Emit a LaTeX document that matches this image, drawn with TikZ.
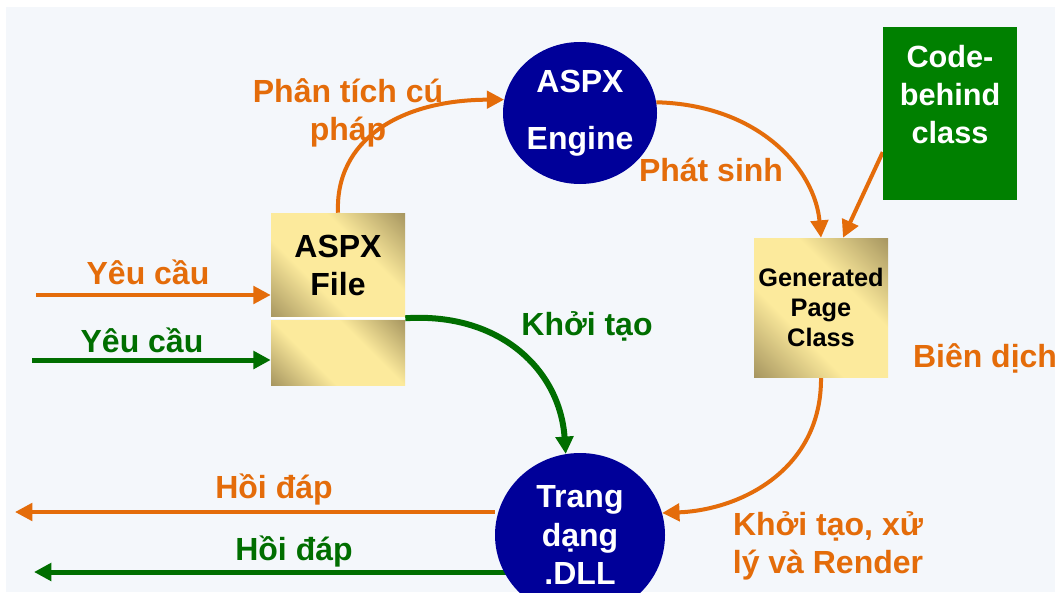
\documentclass[tikz,border=0pt]{standalone}
\usepackage{fontspec}
\setmainfont{Liberation Sans}
\usetikzlibrary{shapes.geometric,arrows.meta,calc}
\pgfdeclarelayer{back}
\pgfdeclarelayer{conn}
\pgfsetlayers{back,conn,main}
\definecolor{navy}{HTML}{000099}
\definecolor{orng}{HTML}{E46C0A}
\definecolor{grn}{HTML}{006E00}
\definecolor{boxgreen}{HTML}{008000}
\definecolor{gold}{HTML}{FCEA9C}
\definecolor{golddark}{HTML}{7F6F44}
\definecolor{panel}{HTML}{F4F7FB}
\pgfdeclareverticalshading{goldsh}{100bp}{color(0bp)=(golddark); color(14bp)=(golddark!70!gold); color(38bp)=(gold); color(62bp)=(gold); color(86bp)=(golddark!70!gold); color(100bp)=(golddark)}
\begin{document}
\begin{tikzpicture}[x=0.75pt,y=-0.75pt,
  lbl/.style={font=\fontsize{24}{28}\selectfont\bfseries, inner sep=0pt, align=center},
  olbl/.style={lbl,text=orng},
  glbl/.style={lbl,text=grn},
  circ/.style={ellipse, fill=navy, text=white, inner sep=0pt, align=center},
  goldbox/.style={rectangle, inner sep=0pt, align=center, shading=goldsh, shading angle=-45},
  oarr/.style={draw=orng, line width=3pt, -{Triangle[length=13pt,width=13pt]}},
  garr/.style={draw=grn, line width=3.75pt, -{Triangle[length=13pt,width=13pt]}}]
\useasboundingbox (0,0) rectangle (1055,592);
\begin{pgfonlayer}{back}
\fill[white] (0,0) rectangle (1055,592);
\fill[panel] (6,7) rectangle (1055,592);
\end{pgfonlayer}
% nodes
\node[circ, minimum width=115.5pt, minimum height=106.5pt, font=\fontsize{24}{43}\selectfont\bfseries] (engine) at (580,113) {ASPX\\Engine};
\node[circ, minimum width=127.5pt, minimum height=123pt, font=\fontsize{24}{29}\selectfont\bfseries] (dll) at (580,535) {Trang\\dạng\\.DLL};
\node[goldbox, minimum width=100.5pt, minimum height=78.75pt, font=\fontsize{24}{28.5}\selectfont\bfseries] (aspx) at (338,265.5) {ASPX\\File};
\node[goldbox, minimum width=100.5pt, minimum height=48.75pt] (aspxlow) at (338,352.5) {};
\draw[white, line width=1.2pt] (aspx.south west) -- (aspx.south east);
\node[goldbox, minimum width=100.5pt, minimum height=104.25pt, font=\fontsize{19}{22.5}\selectfont\bfseries] (gen) at (821,307.5) {Generated\\Page\\Class};
\node[rectangle, fill=boxgreen, minimum width=100.5pt, minimum height=129.75pt] (code) at (950,113.5) {};
\node[lbl, text=white, font=\fontsize{23}{28.5}\selectfont\bfseries] (codetxt) at (950,95) {Code-\\behind\\class};
% labels
\node[olbl] (l1) at (348,113) {Phân tích cú\\pháp};
\node[olbl] (l2) at (711,170) {Phát sinh};
\node[olbl] (l3) at (148,272) {Yêu cầu};
\node[glbl] (l4) at (142,340) {Yêu cầu};
\node[glbl] (l5) at (587,326) {Khởi tạo};
\node[olbl] (l6) at (985,358) {Biên dịch};
\node[olbl] (l7) at (828,546) {Khởi tạo, xử\\lý và Render};
\node[olbl] (l8) at (274,490) {Hồi đáp};
\node[glbl] (l9) at (294,552) {Hồi đáp};
% connectors
\coordinate (y1) at (36,295);
\coordinate (y2) at (32,360);
\coordinate (h1) at (15,512);
\coordinate (h2) at (34,572);
\begin{pgfonlayer}{conn}
\draw[oarr] (y1) -- (aspx.west |- y1);
\draw[garr] (y2) -- (aspxlow.west |- y2);
\draw[oarr] (aspx.north) .. controls (335,140) and (400,100) .. (engine.170);
\draw[oarr] (engine.8) .. controls (760,105) and (815,170) .. (gen.north);
\draw[oarr] ([yshift=-29pt]code.west) -- ([xshift=16.5pt]gen.north);
\draw[oarr] (gen.south) .. controls (822,470) and (740,510) .. (dll.15);
\draw[garr, line width=4.5pt] (aspx.south east) .. controls (500,312) and (560,370) .. (dll.100);
\draw[oarr] (dll.west |- h1) -- (h1);
\draw[garr] (dll.center |- h2) -- (h2);
\end{pgfonlayer}
\end{tikzpicture}
\end{document}
